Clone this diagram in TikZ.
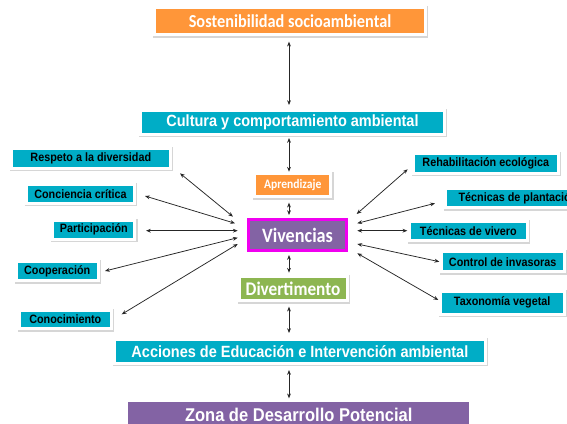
\documentclass[tikz,border=0pt]{standalone}
\usepackage{fontspec}
\setmainfont{Liberation Sans}
\newfontfamily\carl{Carlito}
\usetikzlibrary{arrows.meta}
\definecolor{cOr}{HTML}{FF9639}
\definecolor{cTe}{HTML}{00ADC6}
\definecolor{cPu}{HTML}{8363A4}
\definecolor{cGr}{HTML}{8DB651}
\definecolor{cMg}{HTML}{F000F0}
\newcommand\vst[1]{\scalebox{1}[1.12]{#1}}
\begin{document}
\begin{tikzpicture}[x=1pt,y=-1pt,
  box/.style={fill=#1, draw=white, line width=3pt, inner sep=0pt, text=white,
    preaction={draw=black!16, line width=4.4pt, transform canvas={xshift=0.7pt,yshift=-0.8pt}}},
  sbox/.style={box=cTe, text=black, font=\bfseries\fontsize{10.8}{12}\selectfont},
  arr/.style={{Stealth[length=4.8pt,width=3.8pt]}-{Stealth[length=4.8pt,width=3.8pt]}, line width=0.75pt, draw=black!85},
]
\useasboundingbox (0,0) rectangle (567,423);
\clip (0,0) rectangle (567,423);
\fill[white] (0,0) rectangle (567,423);

% central column
\node[box=cOr, minimum width=271pt, minimum height=27pt, font=\carl\bfseries\fontsize{16.3}{18}\selectfont] (sost) at (290,21.3) {\vst{Sostenibilidad socioambiental}};
\node[box=cTe, minimum width=304pt, minimum height=24pt, font=\bfseries\fontsize{14.5}{16}\selectfont] (cult) at (292.5,122.2) {\vst{Cultura y comportamiento ambiental}};
\node[box=cOr, minimum width=76pt, minimum height=23pt, font=\carl\bfseries\fontsize{11.6}{13}\selectfont] (apr) at (292.7,185) {\vst{Aprendizaje}};
\node[fill=cPu, draw=cMg, line width=2.6pt, inner sep=0pt, text=white, minimum width=98.5pt, minimum height=31pt, font=\carl\bfseries\fontsize{18.2}{21}\selectfont] (viv) at (297.5,235) {\vst{Vivencias}};
\node[box=cGr, minimum width=108pt, minimum height=24pt, font=\carl\bfseries\fontsize{17.2}{19}\selectfont] (div) at (293,288.5) {\vst{Divertimento}};
\node[box=cTe, minimum width=371pt, minimum height=24pt, font=\bfseries\fontsize{14.5}{16}\selectfont] (acc) at (299.9,351.2) {\vst{Acciones de Educación e Intervención ambiental}};
\node[fill=cPu, inner sep=0pt, text=white, minimum width=340.6pt, minimum height=27pt, font=\bfseries\fontsize{16.5}{18}\selectfont] (zona) at (298.7,415.2) {\vst{Zona de Desarrollo Potencial}};

% left boxes
\node[sbox, minimum width=159pt, minimum height=19.7pt] (resp) at (90.8,158.3) {\vst{Respeto a la diversidad}};
\node[sbox, minimum width=107.4pt, minimum height=19pt] (conc) at (80.5,193.7) {\vst{Conciencia crítica}};
\node[sbox, minimum width=82pt, minimum height=19pt] (part) at (93.8,229.7) {\vst{Participación}};
\node[sbox, minimum width=82pt, minimum height=19.6pt] (coop) at (57.2,271) {\vst{Cooperación}};
\node[sbox, minimum width=92.3pt, minimum height=18.6pt] (cono) at (65.3,319.5) {\vst{Conocimiento}};

% right boxes
\node[sbox, minimum width=144.7pt, minimum height=19.7pt] (rehab) at (485.8,163.3) {\vst{Rehabilitación ecológica}};
\node[sbox, minimum width=146pt, minimum height=19pt, anchor=west] (tplan) at (443.5,198) {\vst{Técnicas de plantación}};
\node[sbox, minimum width=118.3pt, minimum height=19pt] (tviv) at (468.3,231.3) {\vst{Técnicas de vivero}};
\node[sbox, minimum width=123pt, minimum height=19.7pt] (ctrl) at (502.7,261.7) {\vst{Control de invasoras}};
\node[sbox, minimum width=124pt, minimum height=23pt] (tax) at (502.2,302.7) {\vst{Taxonomía vegetal}};

% arrow end coordinates
\coordinate (a1) at (289,41.7);  \coordinate (b1) at (289,105);
\coordinate (a2) at (289,138);   \coordinate (b2) at (289,171.7);
\coordinate (a3) at (289,202.7); \coordinate (b3) at (289,215);
\coordinate (a4) at (289,255);   \coordinate (b4) at (289,272.7);
\coordinate (a5) at (289,306.7); \coordinate (b5) at (289,333);
\coordinate (a6) at (289,370);   \coordinate (b6) at (289,398.3);

\coordinate (lr1) at (180,173.3);   \coordinate (lv1) at (233,216.7);
\coordinate (lr2) at (145,196);     \coordinate (lv2) at (235,223.3);
\coordinate (lr3) at (146,230.7);   \coordinate (lv3) at (237.7,230.7);
\coordinate (lr4) at (105,271);     \coordinate (lv4) at (237.7,237.7);
\coordinate (lr5) at (121.7,314.3); \coordinate (lv5) at (237.7,244);

\coordinate (rv1) at (356.7,214);   \coordinate (rr1) at (407.7,169.3);
\coordinate (rv2) at (357.3,223.3); \coordinate (rr2) at (435,203.3);
\coordinate (rv3) at (357.3,230.7); \coordinate (rr3) at (407.3,230.7);
\coordinate (rv4) at (357.3,244);   \coordinate (rr4) at (439.3,261.7);
\coordinate (rv5) at (357.3,253.3); \coordinate (rr5) at (438.3,300);

\foreach \i in {1,...,6} {\draw[arr] (a\i) -- (b\i);}
\foreach \i in {1,...,5} {\draw[arr] (lr\i) -- (lv\i); \draw[arr] (rv\i) -- (rr\i);}
\end{tikzpicture}
\end{document}
